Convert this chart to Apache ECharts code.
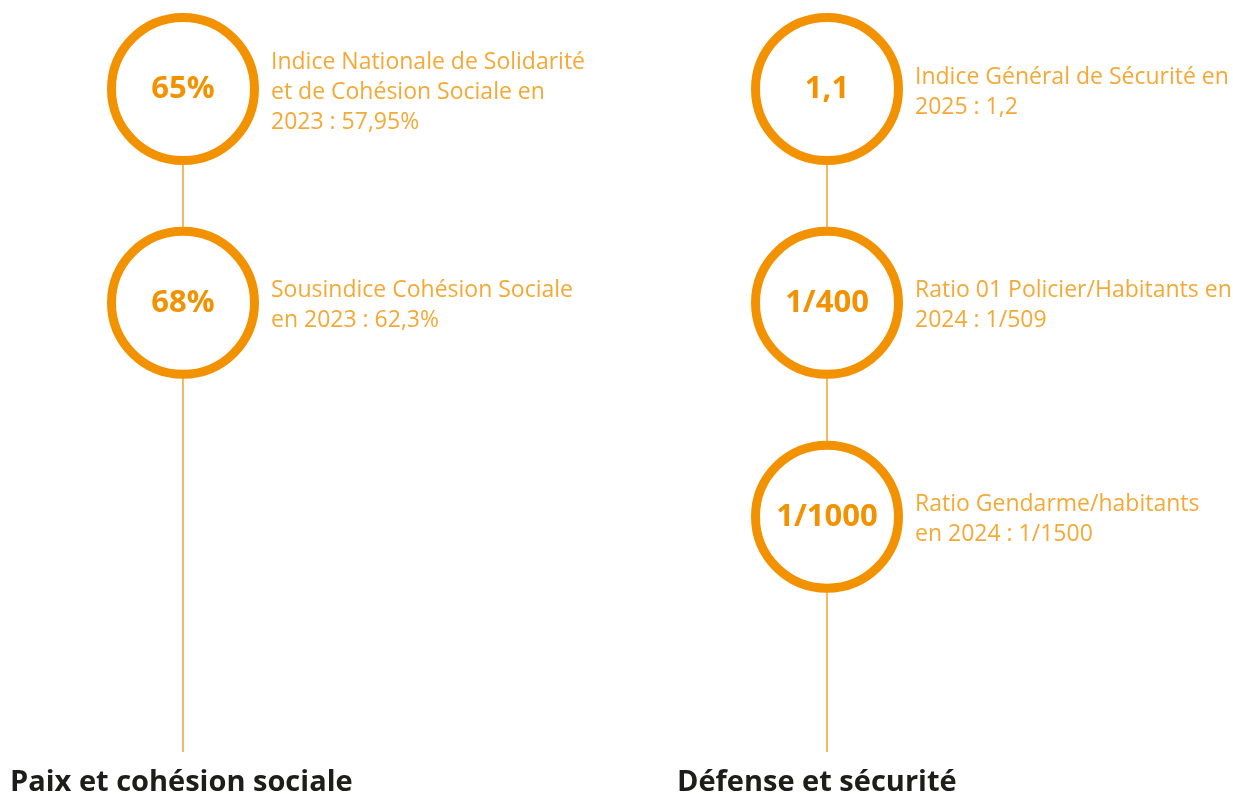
<!DOCTYPE html>
<html>
<head>
<meta charset="utf-8">
<script src="https://cdn.jsdelivr.net/npm/echarts@6/dist/echarts.min.js"></script>
<style>
  html, body { margin: 0; padding: 0; background: #fff; }
  #main { width: 1233px; height: 795px; }
</style>
</head>
<body>
<div id="main"></div>
<script>
// piliers (colonnes)
var pillars = ['Paix et cohésion sociale', 'Défense et sécurité']
// indicateurs : pilier, rang, valeur cible, description
var indPillar = [0, 0, 1, 1, 1]
var indRank = [0, 1, 0, 1, 2]
var indValue = ['65%', '68%', '1,1', '1/400', '1/1000']
var indText = [
  'Indice Nationale de Solidarité\net de Cohésion Sociale en\n2023 : 57,95%',
  'Sousindice Cohésion Sociale\nen 2023 : 62,3%',
  'Indice Général de Sécurité en\n2025 : 1,2',
  'Ratio 01 Policier/Habitants en\n2024 : 1/509',
  'Ratio Gendarme/habitants\nen 2024 : 1/1500'
]

var orange = '#f39200'
var font = 'Open Sans'

var points = indValue.map(function (v, i) {
  return [pillars[indPillar[i]], indRank[i], v, indText[i]]
})

var myChart = echarts.init(document.getElementById('main'))
myChart.setOption({
  animation: false,
  title: pillars.map(function (p, i) {
    return {
      text: p,
      left: i === 0 ? 5 : 672,
      top: 763,
      textStyle: { fontFamily: font, fontWeight: 'bold', fontSize: 29, color: '#1d1d1b' }
    }
  }),
  grid: { left: 183, right: 406, top: 89, bottom: 43 },
  xAxis: {
    type: 'category',
    data: pillars,
    boundaryGap: false,
    axisLine: { show: false },
    axisTick: { show: false },
    axisLabel: { show: false },
    splitLine: { show: true, lineStyle: { color: '#f7b863', width: 2 } }
  },
  yAxis: {
    type: 'value',
    inverse: true,
    min: 0,
    max: 3.1,
    show: false,
    splitLine: { show: false }
  },
  series: [
    {
      // cercles avec la valeur cible
      type: 'scatter',
      data: points,
      encode: { x: 0, y: 1 },
      symbol: 'circle',
      symbolSize: 143,
      itemStyle: { color: '#fff', borderColor: orange, borderWidth: 9, opacity: 1 },
      label: {
        show: true,
        position: 'inside',
        formatter: function (p) { return p.data[2] },
        fontFamily: font,
        fontWeight: 'bold',
        fontSize: 31,
        color: orange
      },
      emphasis: { disabled: true },
      z: 3
    },
    {
      // descriptions à droite
      type: 'scatter',
      data: points,
      encode: { x: 0, y: 1 },
      symbol: 'circle',
      symbolSize: 152,
      itemStyle: { color: 'rgba(0,0,0,0)' },
      silent: true,
      label: {
        show: true,
        position: 'right',
        distance: 12,
        offset: [0, 3],
        align: 'left',
        formatter: function (p) { return p.data[3] },
        fontFamily: font,
        fontSize: 23,
        lineHeight: 30,
        color: orange
      },
      z: 4
    }
  ]
})
</script>
</body>
</html>
